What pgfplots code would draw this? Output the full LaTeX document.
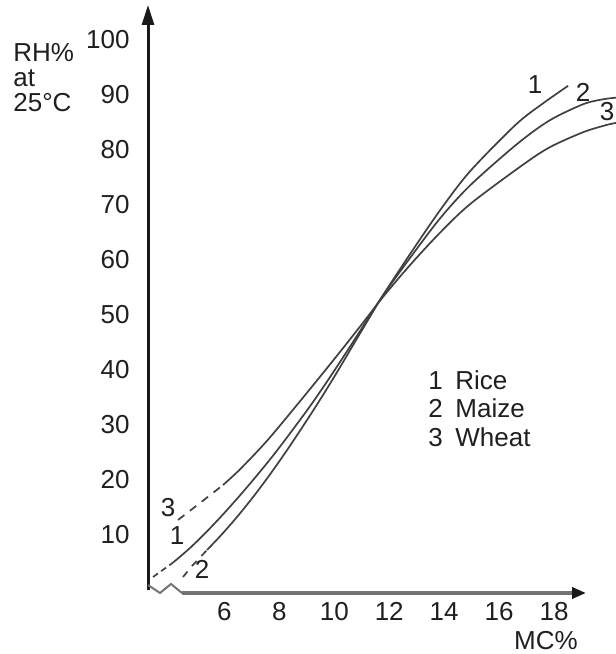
\documentclass[border=0pt]{standalone}
\usepackage{fontspec}
\setmainfont{Liberation Sans}
\usepackage{pgfplots}
\pgfplotsset{compat=1.18}
\usetikzlibrary{arrows.meta}

\begin{document}
\fontsize{13}{12.5}\selectfont
\begin{tikzpicture}[font=\fontsize{13}{12.5}\selectfont]
\begin{axis}[
  scale only axis, width=234pt, height=296.5pt,
  xmin=3.215, xmax=20.257, ymin=-0.729, ymax=107.29,
  axis line style={draw=none},
  major tick length=0pt, tick style={draw=none},
  xtick={6,8,10,12,14,16,18},
  ytick={10,20,30,40,50,60,70,80,90,100},
  /pgf/number format/assume math mode=true,
  tick label style={font=\fontsize{13}{12.5}\selectfont, text=black!88},
  xticklabel style={anchor=north, inner sep=0pt, yshift=-4.5pt},
  yticklabel style={anchor=east, inner sep=0pt, xshift=-9pt},
  clip=false,
]
% Rice (1)
\addplot[line width=0.85pt, black!75, dash pattern=on 3pt off 2pt] coordinates {
  (3.398,2.19) (4.126,4.81)};
\addplot[smooth, line width=0.85pt, black!75] coordinates {
  (4.126,4.81) (4.745,7.47) (5.364,10.50) (5.947,13.59) (6.566,17.06)
  (7.185,20.71) (7.913,25.22) (9.006,32.54) (9.734,37.78) (10.499,43.59)
  (11.154,48.70) (11.773,53.53) (12.756,61.00) (13.849,68.98) (14.941,76.08)
  (16.617,84.63) (17.600,88.46) (18.511,91.65)};
% Maize (2)
\addplot[line width=0.85pt, black!75, dash pattern=on 3.5pt off 3.5pt] coordinates {
  (4.490,2.19) (4.818,4.20) (5.364,7.10)};
\addplot[smooth, line width=0.85pt, black!75] coordinates {
  (5.364,7.10) (5.947,10.19) (6.566,13.78) (7.185,17.68) (7.768,21.64)
  (8.387,26.10) (9.224,32.46) (9.953,38.29) (10.645,44.10) (11.227,48.99)
  (11.773,53.47) (12.756,60.30) (13.849,67.50) (14.941,73.50) (16.617,80.90)
  (17.819,85.30) (19.057,88.30) (19.785,89.20) (20.259,89.50)};
% Wheat (3)
\addplot[line width=0.85pt, black!75, dash pattern=on 4pt off 3.5pt] coordinates {
  (4.308,12.57) (5.109,15.66) (5.947,18.94)};
\addplot[smooth, line width=0.85pt, black!75] coordinates {
  (5.947,18.94) (6.566,21.80) (7.549,27.00) (8.751,34.20) (9.953,41.60)
  (10.936,47.80) (11.773,53.20) (12.756,59.00) (13.849,64.90) (14.941,70.10)
  (16.762,76.90) (17.819,80.40) (19.057,83.20) (19.895,84.50) (20.259,84.90)};
\end{axis}
\begin{scope}[x=0.5pt, y=-0.5pt, shift={(-74pt,296.5pt)}]
  % axes
  \draw[line width=1.5pt, black!90, -{Triangle[length=10pt,width=6pt]}] (148,590) -- (148,5);
  \draw[line width=1.8pt, black!55, -{Triangle[length=7pt,width=5.5pt,black!90]}] (182,593) -- (586,593);
  \draw[line width=1pt, black!55] (148,585) -- (160,593) -- (171,584) -- (182,593);
  % axis titles
  \node[anchor=north west, inner sep=0pt, align=left, text=black!88] at (13,43) {RH\%\\at\\25°C};
  \node[anchor=base, inner sep=0pt, text=black!88] at (546,649) {MC\%};
  % legend
  \node[anchor=base west, inner sep=0pt, text=black!88] at (428,390) {1};
  \node[anchor=base west, inner sep=0pt, text=black!88] at (455,390) {Rice};
  \node[anchor=base west, inner sep=0pt, text=black!88] at (428,418) {2};
  \node[anchor=base west, inner sep=0pt, text=black!88] at (455,418) {Maize};
  \node[anchor=base west, inner sep=0pt, text=black!88] at (428,447) {3};
  \node[anchor=base west, inner sep=0pt, text=black!88] at (455,447) {Wheat};
  % curve numbers
  \node[inner sep=0pt, text=black!88] at (535,85) {1};
  \node[inner sep=0pt, text=black!88] at (583,92) {2};
  \node[inner sep=0pt, text=black!88] at (607,112) {3};
  \node[inner sep=0pt, text=black!88] at (168,508) {3};
  \node[inner sep=0pt, text=black!88] at (177,536) {1};
  \node[inner sep=0pt, text=black!88] at (202,569) {2};
  \pgfresetboundingbox
  \useasboundingbox (0,0) rectangle (616,654);
\end{scope}
\end{tikzpicture}
\end{document}
